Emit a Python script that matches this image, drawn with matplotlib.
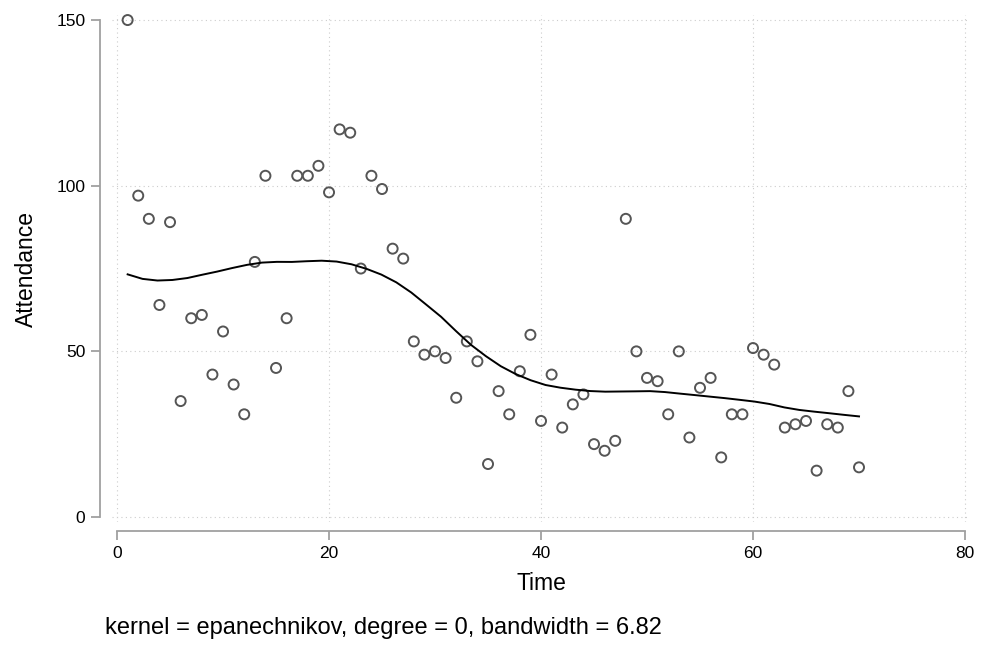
import numpy as np
import matplotlib
matplotlib.use('Agg')
import matplotlib.pyplot as plt

plt.rcParams['font.family'] = ['Liberation Sans', 'DejaVu Sans']

# attendance observed at each time point
time = list(range(1, 71))
attendance = [150, 97, 90, 64, 89, 35, 60, 61, 43, 56,
              40, 31, 77, 103, 45, 60, 103, 103, 106, 98,
              117, 116, 75, 103, 99, 81, 78, 53, 49, 50,
              48, 36, 53, 47, 16, 38, 31, 44, 55, 29,
              43, 27, 34, 37, 22, 20, 23, 90, 50, 42,
              41, 31, 50, 24, 39, 42, 18, 31, 31, 51,
              49, 46, 27, 28, 29, 14, 28, 27, 38, 15]

bandwidth = 6.82
x_ticks = [0, 20, 40, 60, 80]
y_ticks = [0, 50, 100, 150]


def lpoly_epan(x, y, h, n=50):
    # local mean (degree 0) with Stata's epanechnikov kernel
    x = np.asarray(x, float)
    y = np.asarray(y, float)
    grid = np.linspace(x.min(), x.max(), n)
    out = []
    for g in grid:
        z = (x - g) / h
        w = np.where(np.abs(z) < np.sqrt(5), 0.75 * (1 - z ** 2 / 5) / np.sqrt(5), 0)
        out.append(np.sum(w * y) / np.sum(w))
    return grid, np.array(out)


gx, gy = lpoly_epan(time, attendance, bandwidth)

fig = plt.figure(figsize=(9.81, 6.47), dpi=100)
ax = fig.add_axes([0.1139, 0.1932, 0.8752, 0.7835])

ax.scatter(time, attendance, s=52, facecolors='none', edgecolors='#555555',
           linewidths=1.4, zorder=3, clip_on=False)
ax.plot(gx, gy, color='black', lw=1.4, zorder=4)

ax.set_xlim(-0.5, 80.5)
ax.set_ylim(-1.5, 151.5)
ax.set_xticks(x_ticks)
ax.set_yticks(y_ticks)
ax.grid(True, color='#cccccc', linestyle=(0, (1, 3)), linewidth=0.8)
ax.set_axisbelow(True)

for s in ['top', 'right']:
    ax.spines[s].set_visible(False)
ax.spines['left'].set_position(('outward', 8.4))
ax.spines['bottom'].set_position(('outward', 6.5))
ax.spines['left'].set_bounds(0, 150)
ax.spines['bottom'].set_bounds(0, 80)
for s in ['left', 'bottom']:
    ax.spines[s].set_color('#a0a0a0')
    ax.spines[s].set_linewidth(1.3)

ax.tick_params(axis='both', colors='#a0a0a0', length=6.5, width=1.3,
               labelsize=12.5, labelcolor='black', pad=4)

ax.set_ylabel('Attendance', fontsize=16.5, labelpad=13)
ax.set_xlabel('Time', fontsize=16.5, labelpad=8)

fig.text(0.107, 0.029, 'kernel = epanechnikov, degree = 0, bandwidth = 6.82',
         fontsize=17, va='center', ha='left')

fig.savefig('out.png', dpi=100, facecolor='white')
